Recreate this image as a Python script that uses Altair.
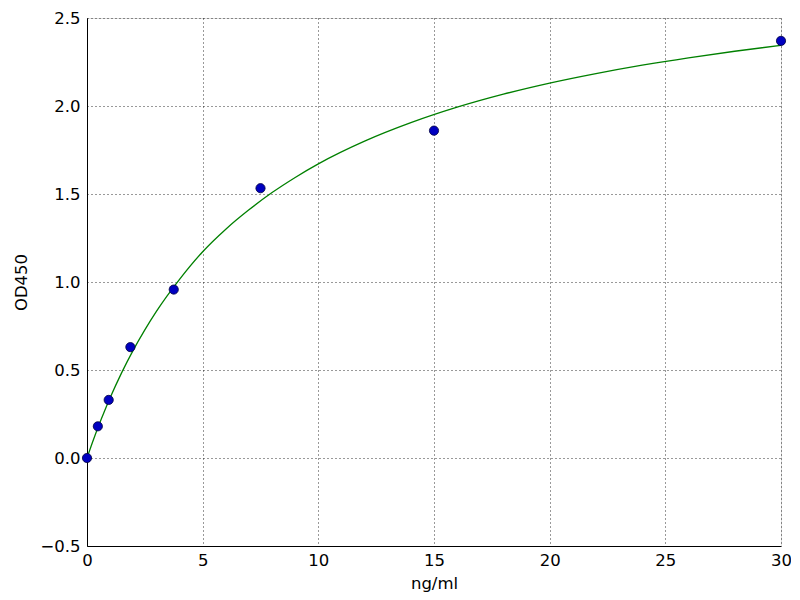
import altair as alt
import pandas as pd

# measured standards
conc = [0.0, 0.469, 0.9375, 1.875, 3.75, 7.5, 15.0, 30.0]
od = [0.0, 0.18, 0.33, 0.63, 0.957, 1.533, 1.86, 2.37]

# fitted curve
curve_x = [0, 0.25, 0.5, 0.75, 1, 1.5, 2, 2.5, 3, 4, 5, 6, 7, 8, 9, 10,
           12, 14, 16, 18, 20, 22, 24, 26, 28, 30]
curve_y = [0.0, 0.094, 0.182, 0.264, 0.342, 0.485, 0.613, 0.728, 0.833, 1.015, 1.172,
           1.300, 1.410, 1.508, 1.594, 1.671, 1.800, 1.905, 1.993, 2.067, 2.130,
           2.184, 2.232, 2.274, 2.311, 2.345]

pts = pd.DataFrame({"x": conc, "y": od})
crv = pd.DataFrame({"x": curve_x, "y": curve_y})

FONT = "DejaVu Sans"
FS = 16.5

xscale = alt.Scale(domain=[0, 30], nice=False, zero=False)
yscale = alt.Scale(domain=[-0.5, 2.5], nice=False, zero=False)

xaxis = alt.Axis(title="ng/ml", values=[0, 5, 10, 15, 20, 25, 30], format="d",
                 grid=True, gridColor="black", gridDash=[1, 3], gridOpacity=0.8,
                 ticks=False, labelPadding=6, labelFontSize=FS, labelFont=FONT,
                 labelColor="black", titleFont=FONT, titleFontSize=FS,
                 titleFontWeight="normal", titleColor="black", titlePadding=7,
                 domainColor="black", labelFlush=False)
yaxis = alt.Axis(title="OD450", values=[-0.5, 0, 0.5, 1.0, 1.5, 2.0, 2.5], format=".1f",
                 grid=True, gridColor="black", gridDash=[1, 3], gridOpacity=0.8,
                 ticks=False, labelPadding=7, labelFontSize=FS, labelFont=FONT,
                 labelColor="black", titleFont=FONT, titleFontSize=FS,
                 titleFontWeight="normal", titleColor="black", titlePadding=10,
                 domainColor="black", labelFlush=False)

line = alt.Chart(crv).mark_line(color="#008000", strokeWidth=1.3, interpolate="monotone").encode(
    x=alt.X("x:Q", scale=xscale, axis=xaxis),
    y=alt.Y("y:Q", scale=yscale, axis=yaxis),
)

dots = alt.Chart(pts).mark_point(filled=True, color="#0000c0", size=85, opacity=1,
                                 stroke="#000040", strokeWidth=0.8).encode(
    x=alt.X("x:Q", scale=xscale),
    y=alt.Y("y:Q", scale=yscale),
)

chart = alt.layer(line, dots).properties(
    width=694, height=528,
    autosize=alt.AutoSizeParams(type="none"),
    padding={"left": 79, "top": 10, "right": 10, "bottom": 50},
).configure_view(stroke="black", strokeWidth=1.2).configure(background="white")

chart.save("out.html", embed_options={"renderer": "svg", "actions": False})
